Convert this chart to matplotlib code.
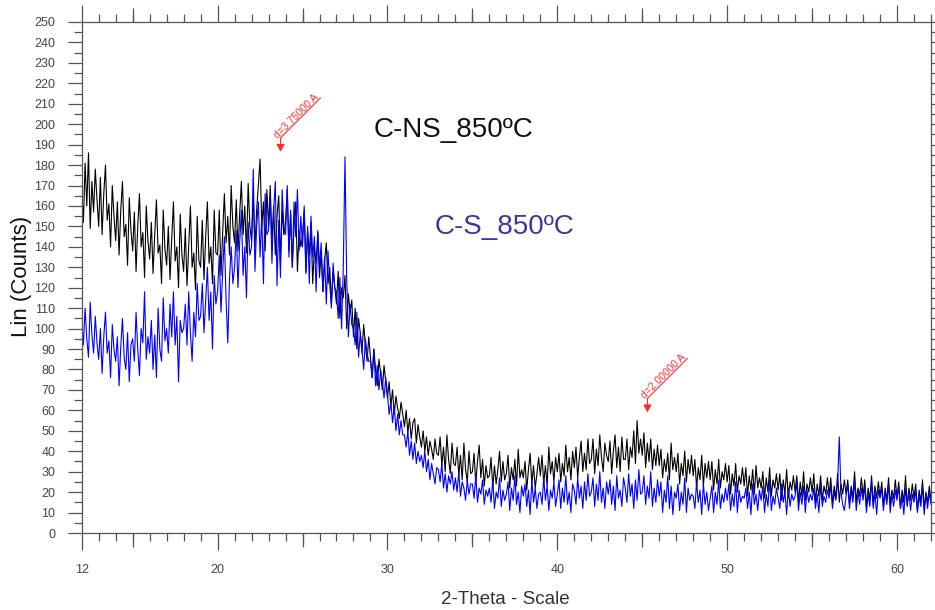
import numpy as np
import matplotlib
matplotlib.use("Agg")
import matplotlib.pyplot as plt

plt.rcParams["font.family"] = ["Liberation Sans", "DejaVu Sans"]

# Scan grid (degrees 2-theta)
start_2theta = 12.0
step_2theta = 0.1

# Intensity of sample C-NS_850ºC, one row per degree (12.0 ... 61.9, then 62.0)
cns_counts = [
    168, 152, 181, 160, 186, 149, 172, 157, 178, 163,
    150, 174, 146, 166, 180, 153, 161, 140, 170, 155,
    143, 162, 136, 158, 172, 145, 151, 131, 164, 148,
    138, 157, 128, 150, 166, 140, 147, 125, 160, 143,
    134, 152, 127, 146, 163, 137, 141, 122, 158, 139,
    131, 150, 124, 144, 162, 133, 140, 120, 156, 136,
    128, 149, 121, 141, 160, 130, 137, 119, 155, 133,
    130, 153, 124, 145, 162, 132, 140, 122, 158, 137,
    136, 158, 126, 147, 166, 142, 155, 136, 170, 150,
    142, 163, 138, 156, 172, 146, 160, 137, 171, 150,
    143, 165, 140, 158, 170, 183, 150, 162, 138, 168,
    150, 170, 142, 160, 136, 155, 165, 132, 158, 146,
    152, 168, 138, 156, 130, 150, 162, 128, 148, 140,
    145, 158, 127, 148, 136, 152, 122, 140, 132, 147,
    125, 138, 118, 133, 142, 122, 130, 112, 128, 120,
    112, 128, 105, 120, 115, 126, 100, 117, 108, 114,
    96, 110, 90, 105, 98, 88, 102, 92, 84, 96,
    86, 76, 90, 80, 72, 85, 78, 70, 82, 74,
    66, 74, 62, 70, 58, 67, 61, 56, 64, 58,
    52, 60, 49, 56, 46, 54, 56, 44, 53, 47,
    42, 50, 40, 47, 38, 45, 41, 36, 46, 39,
    38, 47, 33, 42, 30, 48, 36, 29, 44, 34,
    33, 42, 28, 38, 26, 44, 31, 25, 40, 29,
    30, 39, 24, 35, 43, 27, 36, 23, 33, 27,
    28, 37, 22, 33, 24, 31, 40, 25, 35, 26,
    29, 38, 22, 32, 26, 36, 23, 41, 27, 31,
    27, 35, 21, 31, 39, 24, 33, 22, 29, 37,
    28, 38, 24, 33, 23, 42, 29, 35, 25, 37,
    30, 39, 25, 34, 28, 43, 30, 37, 26, 40,
    32, 42, 27, 37, 45, 30, 39, 31, 46, 34,
    36, 46, 29, 41, 33, 48, 37, 30, 44, 38,
    35, 45, 29, 40, 48, 32, 42, 30, 47, 36,
    36, 46, 31, 42, 37, 50, 34, 55, 39, 46,
    38, 49, 32, 44, 35, 46, 31, 41, 33, 43,
    33, 41, 27, 36, 30, 39, 26, 44, 31, 37,
    30, 39, 24, 34, 28, 40, 25, 36, 29, 38,
    28, 36, 22, 32, 26, 38, 23, 34, 27, 35,
    26, 35, 21, 31, 24, 36, 22, 30, 26, 34,
    25, 33, 19, 29, 23, 34, 20, 28, 24, 32,
    23, 32, 18, 28, 21, 31, 19, 33, 22, 27,
    22, 30, 17, 27, 20, 32, 18, 26, 22, 29,
    21, 29, 16, 26, 19, 31, 17, 25, 21, 28,
    20, 28, 15, 25, 18, 30, 16, 24, 20, 27,
    20, 29, 15, 24, 18, 28, 16, 23, 19, 27,
    19, 27, 14, 23, 17, 29, 15, 24, 19, 26,
    19, 26, 14, 23, 17, 30, 15, 22, 18, 27,
    18, 26, 13, 22, 16, 28, 14, 23, 17, 25,
    18, 25, 13, 22, 16, 27, 14, 21, 17, 26,
    17, 25, 12, 21, 15, 28, 13, 22, 16, 24,
    17, 24, 11, 21, 15, 26, 12, 20, 15, 23,
    16,
]

# Intensity of sample C-S_850ºC, same grid
cs_counts = [
    104, 92, 110, 95, 86, 113, 97, 88, 106, 93,
    85, 100, 78, 96, 108, 88, 94, 76, 102, 90,
    84, 96, 72, 91, 105, 86, 80, 98, 74, 92,
    95, 84, 108, 90, 77, 100, 93, 118, 85, 96,
    88, 104, 80, 97, 76, 110, 90, 84, 115, 94,
    100, 88, 112, 96, 118, 92, 106, 74, 104, 98,
    100, 112, 92, 118, 98, 84, 108, 96, 122, 104,
    106, 122, 98, 114, 130, 104, 118, 90, 126, 112,
    118, 136, 108, 128, 145, 114, 93, 124, 140, 122,
    130, 148, 120, 142, 158, 126, 140, 115, 152, 136,
    140, 178, 128, 150, 162, 135, 155, 122, 166, 146,
    148, 165, 132, 158, 172, 121, 153, 125, 168, 150,
    146, 170, 135, 158, 130, 162, 145, 168, 138, 155,
    140, 160, 128, 150, 122, 155, 135, 145, 118, 148,
    130, 142, 118, 135, 112, 138, 122, 110, 132, 120,
    118, 105, 125, 100, 130, 184, 125, 96, 112, 102,
    100, 92, 108, 86, 98, 90, 80, 95, 88, 84,
    84, 76, 90, 72, 82, 70, 80, 74, 66, 76,
    68, 58, 64, 54, 62, 50, 58, 48, 55, 48,
    48, 42, 50, 38, 45, 36, 44, 34, 40, 35,
    38, 32, 40, 30, 36, 26, 34, 29, 24, 32,
    31, 25, 34, 22, 29, 20, 28, 24, 30, 21,
    27, 20, 30, 18, 25, 22, 16, 26, 19, 24,
    24, 17, 28, 15, 22, 19, 26, 14, 21, 18,
    22, 15, 26, 12, 20, 17, 27, 13, 21, 16,
    19, 25, 11, 22, 16, 28, 14, 20, 10, 23,
    18, 24, 13, 21, 9, 26, 15, 22, 12, 19,
    20, 14, 27, 16, 23, 11, 21, 17, 25, 13,
    19, 26, 12, 22, 15, 28, 14, 20, 10, 24,
    21, 14, 27, 17, 23, 12, 25, 16, 29, 18,
    20, 27, 13, 24, 16, 30, 15, 22, 12, 25,
    19, 26, 14, 23, 11, 28, 17, 21, 13, 27,
    22, 15, 29, 18, 24, 12, 26, 16, 31, 19,
    20, 28, 14, 23, 17, 30, 13, 22, 15, 26,
    18, 25, 10, 21, 15, 28, 12, 23, 9, 20,
    17, 24, 11, 20, 14, 27, 10, 22, 16, 19,
    18, 12, 25, 15, 21, 9, 24, 14, 20, 11,
    17, 23, 10, 20, 14, 26, 12, 19, 15, 22,
    16, 24, 11, 19, 13, 25, 10, 21, 15, 18,
    17, 22, 12, 20, 9, 24, 14, 19, 11, 21,
    16, 23, 10, 19, 13, 26, 11, 18, 14, 22,
    17, 12, 24, 15, 20, 9, 22, 13, 19, 16,
    18, 25, 11, 20, 14, 23, 10, 21, 15, 19,
    16, 22, 12, 19, 10, 24, 13, 18, 15, 21,
    17, 23, 12, 20, 16, 24, 47, 20, 14, 11,
    18, 24, 12, 21, 15, 26, 11, 20, 14, 22,
    16, 23, 10, 19, 13, 25, 12, 20, 9, 21,
    17, 22, 11, 20, 14, 24, 10, 19, 13, 21,
    16, 23, 12, 18, 9, 22, 14, 20, 11, 19,
    15, 21, 10, 18, 13, 23, 9, 19, 12, 20,
    14,
]

series_names = ["C-NS_850ºC", "C-S_850ºC"]
series_colors = ["#000000", "#0000ff"]

# Marked d-spacings (Angstrom), Cu K-alpha wavelength, and marker heights (counts)
wavelength = 1.5406
d_marks = [3.75, 2.0]
d_labels = ["d=3.75000 A", "d=2.00000 A"]
d_mark_counts = [186.5, 59]

x_ticks = [12, 20, 30, 40, 50, 60]

two_theta = np.round(start_2theta + step_2theta * np.arange(len(cns_counts)), 2)

fig = plt.figure(figsize=(9.35, 6.10), dpi=100)
ax = fig.add_axes([81.7 / 935, 77 / 610, 849.3 / 935, 511 / 610])

ax.plot(two_theta, cns_counts, color=series_colors[0], lw=0.8)
ax.plot(two_theta, cs_counts, color=series_colors[1], lw=0.8)

ax.set_xlim(12, 62)
ax.set_ylim(0, 250)

frame = "#555555"
for side in ["left", "right", "top", "bottom"]:
    ax.spines[side].set_color(frame)
    ax.spines[side].set_linewidth(0.9)

ax.set_xticks(x_ticks)
ax.set_xticks(np.arange(12, 63, 1), minor=True)
ax.set_yticks(np.arange(0, 251, 10))
ax.set_yticks(np.arange(0, 251, 5), minor=True)

ax.tick_params(axis="x", which="major", direction="out", length=12, width=0.9,
               color=frame, labelsize=9, labelcolor="#444444", pad=10,
               top=True, bottom=True, labeltop=False)
ax.tick_params(axis="x", which="minor", direction="out", length=6, width=0.9,
               color=frame, top=True, bottom=True)
ax.tick_params(axis="y", which="major", direction="out", length=10, width=0.9,
               color=frame, labelsize=9, labelcolor="#444444", pad=9,
               left=True, right=True, labelright=False)
ax.tick_params(axis="y", which="minor", direction="out", length=6, width=0.9,
               color=frame, left=True, right=True)

# medium ticks at every fifth degree, on both horizontal edges
for loc in ["bottom", "top"]:
    sec = ax.secondary_xaxis(loc)
    sec.set_xticks([15, 25, 35, 45, 55])
    sec.tick_params(direction="out", length=10, width=0.9, color=frame,
                    labelbottom=False, labeltop=False)
    for s in sec.spines.values():
        s.set_visible(False)

fig.text(22 / 935, 1 - 276 / 610, "Lin (Counts)", rotation=90, ha="center",
         va="center", fontsize=16, color="#111111")
fig.text(505 / 935, 1 - 599 / 610, "2-Theta - Scale", ha="center",
         va="center", fontsize=13.5, color="#333333")

ax.text(33.9, 193.7, series_names[0], ha="center", va="baseline",
        fontsize=20, color="#111111")
ax.text(36.9, 146.3, series_names[1], ha="center", va="baseline",
        fontsize=20, color="#3a3a9c")

# d-spacing markers
for d, lab, cnt in zip(d_marks, d_labels, d_mark_counts):
    pos = 2 * np.degrees(np.arcsin(wavelength / (2 * d)))
    ax.annotate("", xy=(pos, cnt), xytext=(40, 54), textcoords="offset pixels",
                arrowprops=dict(arrowstyle="-|>,head_length=0.45,head_width=0.25",
                                connectionstyle="angle,angleA=45,angleB=90,rad=0",
                                color="#ff2a2a", lw=0.8, shrinkA=0, shrinkB=0,
                                mutation_scale=10))
    ax.annotate(lab, xy=(pos, cnt), xytext=(16, 36), textcoords="offset pixels",
                rotation=45, rotation_mode="anchor", ha="center", va="center",
                fontsize=7.5, color="#ff3030")

fig.savefig("out.png", dpi=100)
